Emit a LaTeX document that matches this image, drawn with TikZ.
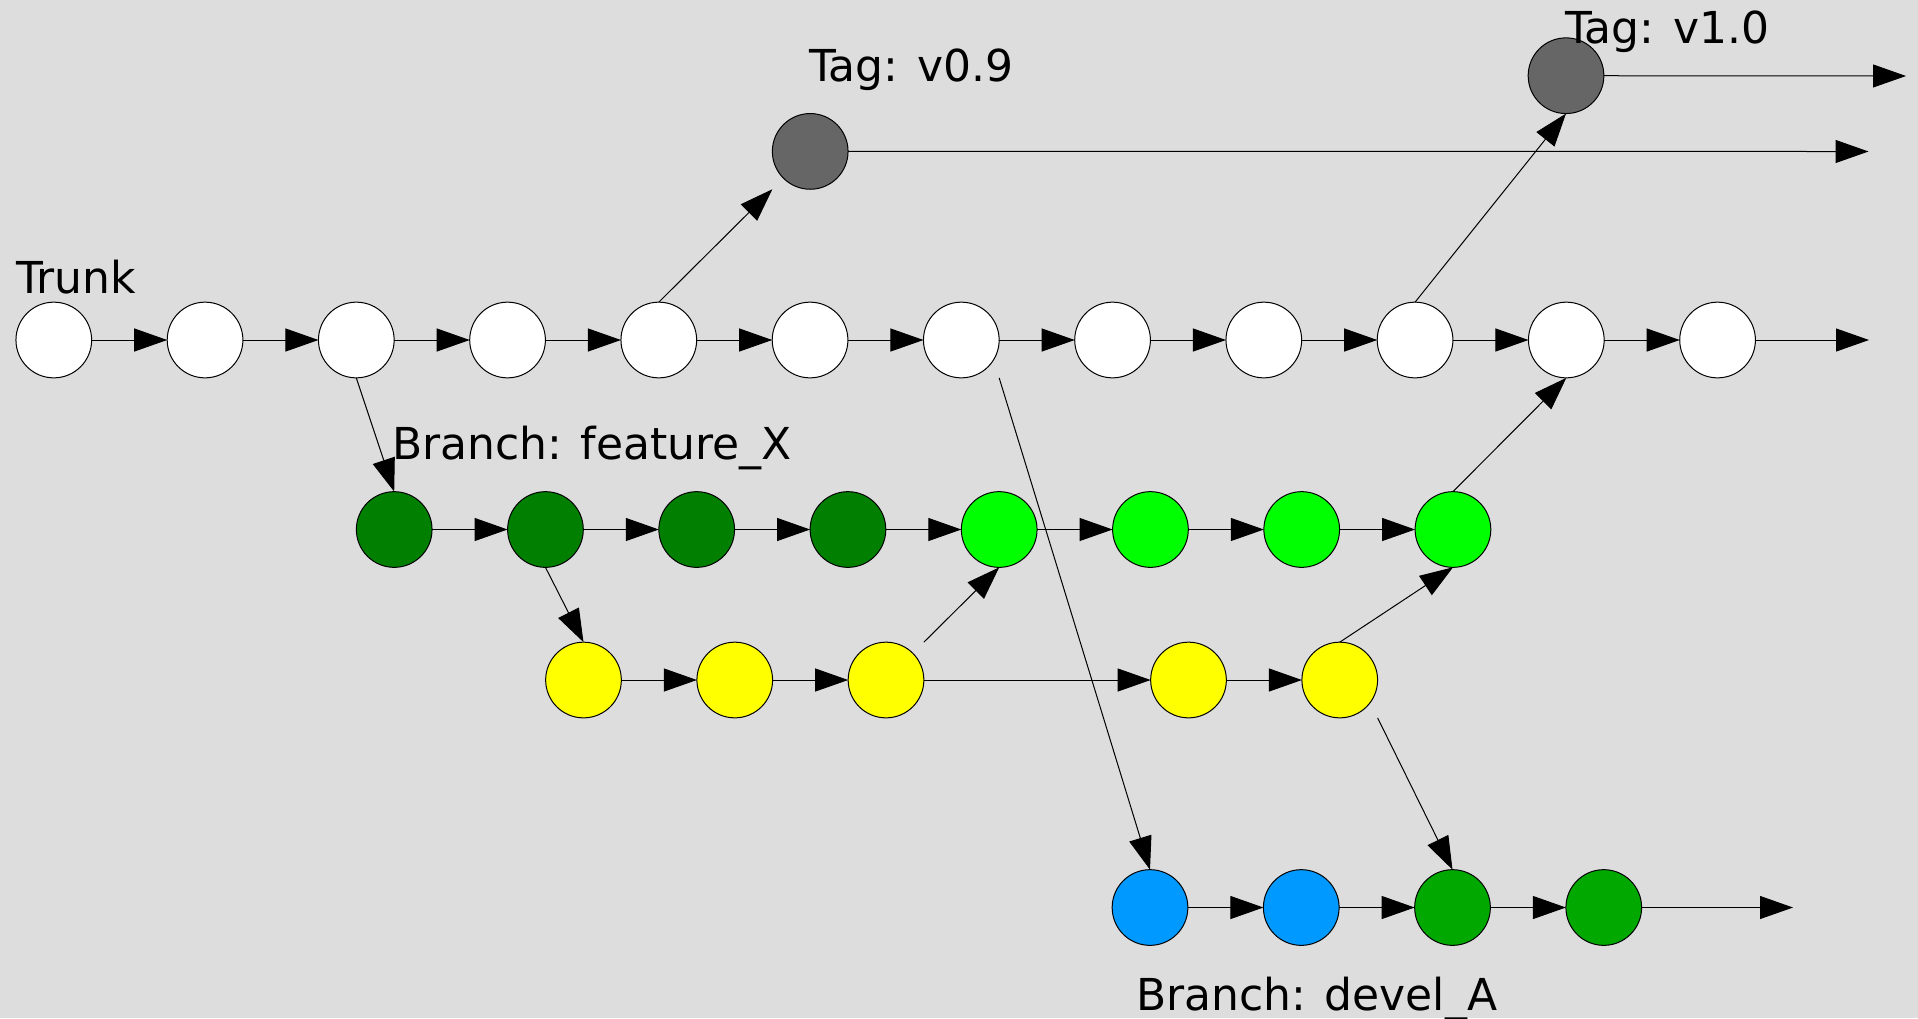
\documentclass[tikz,border=0pt]{standalone}
\usepackage{fontspec}
\setmainfont{DejaVu Sans}
\usetikzlibrary{arrows.meta}
\definecolor{bgc}{HTML}{DDDDDD}
\definecolor{darkg}{HTML}{007F00}
\definecolor{lightg}{HTML}{00FF00}
\definecolor{yel}{HTML}{FFFF00}
\definecolor{blu}{HTML}{0099FF}
\definecolor{midg}{HTML}{00A800}
\definecolor{tagc}{HTML}{666666}
\tikzset{
  commit/.style={circle, draw=black, line width=1pt, minimum size=75.7pt, inner sep=0pt, outer sep=0pt},
  wc/.style={commit, fill=white},
  dg/.style={commit, fill=darkg},
  lg/.style={commit, fill=lightg},
  yc/.style={commit, fill=yel},
  bc/.style={commit, fill=blu},
  mg/.style={commit, fill=midg},
  tg/.style={commit, fill=tagc},
  conn/.style={line width=1pt, -{Triangle[length=33pt,width=23pt]}},
  lbl/.style={anchor=base west, inner sep=0pt, font=\fontsize{44}{50}\selectfont}
}
\begin{document}
\begin{tikzpicture}[x=1pt,y=-1pt]
\useasboundingbox (0,0) rectangle (1918,1018);
\fill[bgc] (0,0) rectangle (1918,1018);
% trunk
\foreach \i in {1,...,12} {
  \node[wc] (t\i) at ({53.8+151.25*(\i-1)},340) {};
}
% tags
\node[tg] (v09) at (810.2,151.4) {};
\node[tg] (v10) at (1566,75.7) {};
% feature
\foreach \i in {1,...,4} {
  \node[dg] (f\i) at ({394.2+151.25*(\i-1)},529.5) {};
}
\foreach \i in {5,...,8} {
  \node[lg] (f\i) at ({394.2+151.25*(\i-1)},529.5) {};
}
% yellow
\node[yc] (y1) at (583.5,680) {};
\node[yc] (y2) at (734.75,680) {};
\node[yc] (y3) at (886,680) {};
\node[yc] (y4) at (1188.5,680) {};
\node[yc] (y5) at (1339.75,680) {};
% bottom
\node[bc] (b1) at (1150,907.5) {};
\node[bc] (b2) at (1301.25,907.5) {};
\node[mg] (b3) at (1452.5,907.5) {};
\node[mg] (b4) at (1603.75,907.5) {};
% end points
\coordinate (tend) at (1869,340);
\coordinate (v09end) at (1868.5,151.5);
\coordinate (v10end) at (1906,76);
\coordinate (bend) at (1793,907.5);
% labels
\node[lbl] (ltrunk) at (16,293) {Trunk};
\node[lbl] (lv09) at (809,81) {Tag: v0.9};
\node[lbl] (lv10) at (1565,43) {Tag: v1.0};
\node[lbl] (lfeat) at (392,459) {Branch: feature\_X};
\node[lbl] (ldev) at (1136,1010) {Branch: devel\_A};
% trunk connectors
\foreach \i [evaluate=\i as \j using int(\i+1)] in {1,...,11} {
  \draw[conn] (t\i) -- (t\j);
}
\draw[conn] (t12) -- (tend);
\draw[conn] (v09) -- (v09end);
\draw[conn] (v10) -- (v10end);
\draw[conn] (t5.north) -- ([xshift=-37.85pt,yshift=-37.85pt]v09.center);
\draw[conn] (t10.north) -- (v10.south);
% feature
\draw[conn] (t3.south) -- (f1.north);
\foreach \i [evaluate=\i as \j using int(\i+1)] in {1,...,7} {
  \draw[conn] (f\i) -- (f\j);
}
\draw[conn] (f2.south) -- (y1.north);
\draw[conn] (y1) -- (y2);
\draw[conn] (y2) -- (y3);
\draw[conn] (y3) -- (y4);
\draw[conn] (y4) -- (y5);
\draw[conn] ([xshift=37.85pt,yshift=37.85pt]y3.center) -- (f5.south);
\draw[conn] (y5.north) -- (f8.south);
\draw[conn] (f8.north) -- (t11.south);
% devel
\draw[conn] ([xshift=37.85pt,yshift=-37.85pt]t7.center) -- (b1.north);
\draw[conn] ([xshift=37.85pt,yshift=-37.85pt]y5.center) -- (b3.north);
\draw[conn] (b1) -- (b2);
\draw[conn] (b2) -- (b3);
\draw[conn] (b3) -- (b4);
\draw[conn] (b4) -- (bend);
\end{tikzpicture}
\end{document}
